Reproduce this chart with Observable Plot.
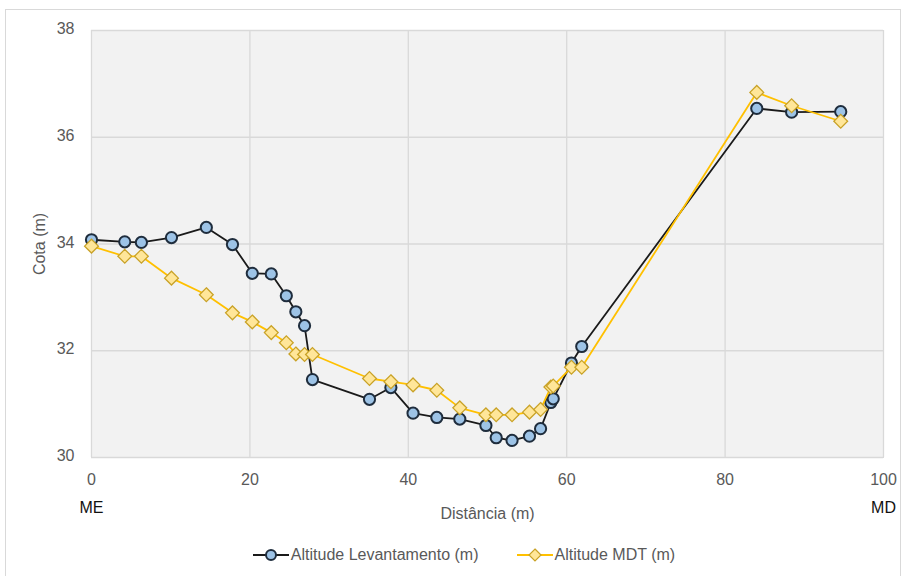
<!DOCTYPE html>
<html>
<head>
<meta charset="utf-8">
<script src="https://cdn.jsdelivr.net/npm/d3@7"></script>
<script src="https://cdn.jsdelivr.net/npm/@observablehq/plot@0.6"></script>
<style>
  html, body { margin: 0; padding: 0; background: #fff; }
  #frame {
    position: absolute; left: 5px; top: 9px; width: 894px; height: 580px;
    border: 1px solid #d9d9d9; box-sizing: content-box;
  }
  #legend {
    display: flex; justify-content: center; align-items: center; gap: 38px;
    height: 40px; padding-left: 22px;
    font-family: "Liberation Sans", Arial, sans-serif; font-size: 16px; color: #595959;
  }
  .item { display: flex; align-items: center; gap: 2px; }
</style>
</head>
<body>
<div id="frame">
  <div id="chart"></div>
  <div id="legend"></div>
</div>
<script>
// Distance along the cross-section (m)
const distances = [0, 4.2, 6.3, 10.1, 14.5, 17.8, 20.3, 22.7, 24.6, 25.8, 26.9, 27.9, 35.1, 37.8, 40.6, 43.6, 46.5, 49.8, 51.1, 53.1, 55.3, 56.7, 58.0, 58.3, 60.6, 61.9, 84.0, 88.4, 94.6];
// Series: Altitude Levantamento (m)
const levantamento = [34.08, 34.04, 34.03, 34.12, 34.31, 33.99, 33.45, 33.44, 33.03, 32.73, 32.47, 31.46, 31.09, 31.31, 30.83, 30.75, 30.72, 30.60, 30.37, 30.32, 30.40, 30.54, 31.03, 31.10, 31.77, 32.08, 36.54, 36.47, 36.48];
// Series: Altitude MDT (m)
const mdt = [33.96, 33.77, 33.77, 33.36, 33.05, 32.71, 32.54, 32.34, 32.15, 31.94, 31.93, 31.93, 31.48, 31.42, 31.36, 31.26, 30.93, 30.80, 30.80, 30.80, 30.85, 30.90, 31.32, 31.34, 31.69, 31.69, 36.84, 36.59, 36.30];
// Axis ticks
const xTicks = [0, 20, 40, 60, 80, 100];
const yTicks = [30, 32, 34, 36, 38];
// Bank labels
const bankPositions = [0, 100];
const bankLabels = ["ME", "MD"];
const seriesNames = ["Altitude Levantamento (m)", "Altitude MDT (m)"];

const levData = distances.map((d, i) => ({x: d, y: levantamento[i]}));
const mdtData = distances.map((d, i) => ({x: d, y: mdt[i]}));
const banks = bankPositions.map((x, i) => ({x, label: bankLabels[i]}));

const font = "'Liberation Sans', Arial, sans-serif";

const chart = Plot.plot({
  width: 894,
  height: 525,
  marginLeft: 85,
  marginRight: 17,
  marginTop: 20,
  marginBottom: 78,
  style: {fontFamily: font, fontSize: "16px", color: "#595959", background: "white", overflow: "visible"},
  x: {domain: [0, 100]},
  y: {domain: [30, 38]},
  marks: [
    Plot.frame({fill: "#f2f2f2", stroke: "#d9d9d9"}),
    Plot.gridX(xTicks, {stroke: "#d9d9d9", strokeOpacity: 1, strokeWidth: 1.3}),
    Plot.gridY(yTicks, {stroke: "#d9d9d9", strokeOpacity: 1, strokeWidth: 1.3}),
    Plot.axisX(xTicks, {tickSize: 0, tickPadding: 16, tickFormat: d => String(d), label: "Distância (m)", labelAnchor: "center", labelArrow: "none", labelOffset: 61, fontSize: 16}),
    Plot.axisY(yTicks, {tickSize: 0, tickPadding: 17, tickFormat: d => String(d), dy: -1.5, label: "Cota (m)", labelAnchor: "center", labelArrow: "none", labelOffset: 58, fontSize: 16}),
    Plot.text(banks, {x: "x", text: "label", frameAnchor: "bottom", dy: 55, fill: "#111", fontSize: 16}),
    Plot.line(levData, {x: "x", y: "y", stroke: "#1a1a1a", strokeWidth: 1.8}),
    Plot.dot(levData, {x: "x", y: "y", r: 5.6, fill: "#9dc3e6", stroke: "#1f2d3d", strokeWidth: 2}),
    Plot.line(mdtData, {x: "x", y: "y", stroke: "#ffc000", strokeWidth: 1.8}),
    Plot.dot(mdtData, {x: "x", y: "y", symbol: "diamond2", r: 6.2, fill: "#ffe699", stroke: "#c9a227", strokeWidth: 1.3})
  ]
});
document.getElementById("chart").appendChild(chart);

// Legend
const legend = document.getElementById("legend");
const swatches = [
  `<svg width="36" height="16"><line x1="0" y1="8" x2="36" y2="8" stroke="#1a1a1a" stroke-width="1.8"/><circle cx="18" cy="8" r="5" fill="#9dc3e6" stroke="#1f2d3d" stroke-width="2"/></svg>`,
  `<svg width="36" height="16"><line x1="0" y1="8" x2="36" y2="8" stroke="#ffc000" stroke-width="1.8"/><path d="M18,2L24,8L18,14L12,8Z" fill="#ffe699" stroke="#c9a227" stroke-width="1.2"/></svg>`
];
seriesNames.forEach((name, i) => {
  const item = document.createElement("div");
  item.className = "item";
  item.innerHTML = swatches[i] + `<span>${name}</span>`;
  legend.appendChild(item);
});
</script>
</body>
</html>
